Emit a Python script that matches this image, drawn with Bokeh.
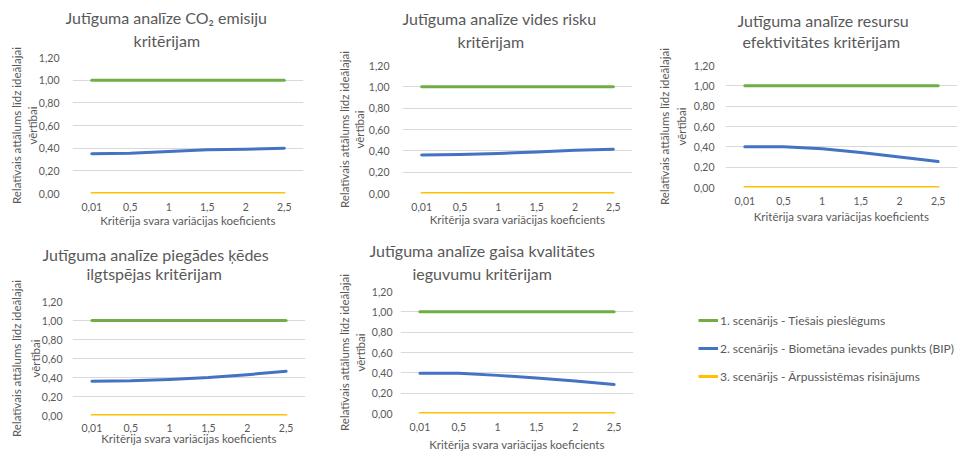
from bokeh.plotting import figure
from bokeh.models import (FactorRange, Range1d, FixedTicker, CustomJSTickFormatter, Title, Legend,
                          LegendItem, LinearAxis)
from bokeh.layouts import column, row
from bokeh.embed import file_html
from bokeh.resources import INLINE

categories = ["0,01", "0,5", "1", "1,5", "2", "2,5"]
y_ticks = [0.0, 0.2, 0.4, 0.6, 0.8, 1.0, 1.2]

series_names = [
    "1. scenārijs - Tiešais pieslēgums",
    "2. scenārijs - Biometāna ievades punkts (BIP)",
    "3. scenārijs - Ārpussistēmas risinājums",
]
series_colors = ["#70AD47", "#4472C4", "#FFC000"]

titles = [
    ("Jutīguma analīze CO₂ emisiju", "kritērijam"),
    ("Jutīguma analīze vides risku", "kritērijam"),
    ("Jutīguma analīze resursu", "efektivitātes kritērijam"),
    ("Jutīguma analīze piegādes ķēdes", "ilgtspējas kritērijam"),
    ("Jutīguma analīze gaisa kvalitātes", "ieguvumu kritērijam"),
]

scenario1 = [1.0, 1.0, 1.0, 1.0, 1.0, 1.0]
scenario3 = [0.0, 0.0, 0.0, 0.0, 0.0, 0.0]
co2_s2 = [0.35, 0.355, 0.37, 0.385, 0.39, 0.40]
risk_s2 = [0.36, 0.365, 0.375, 0.39, 0.405, 0.415]
resource_s2 = [0.40, 0.40, 0.38, 0.345, 0.30, 0.255]
supply_s2 = [0.36, 0.365, 0.38, 0.40, 0.43, 0.465]
air_s2 = [0.395, 0.395, 0.375, 0.35, 0.32, 0.285]
panel_s2 = [co2_s2, risk_s2, resource_s2, supply_s2, air_s2]

x_title = "Kritērija svara variācijas koeficients"
y_title_1 = "Relatīvais attālums līdz ideālajai"
y_title_2 = "vērtībai"

FONT = "Lato"
GREY = "#595959"

# frame borders: (width, height, left, right, top, bottom)
borders = [
    (320, 230, 72, 17, 57, 37),
    (320, 230, 82, 8, 65, 37),
    (320, 230, 85, 3, 65, 43),
    (320, 224, 72, 15, 71, 39),
    (320, 224, 80, 7, 61, 41),
]
# title placement: (offset line 1, offset line 2, spacer standoff, line 1 standoff)
title_place = [
    (-7, 61, 5, 4),
    (0, 55, 12, 4),
    (12, 17, 12, 0),
    (-30, 14, 16, -4),
    (-31, 12, 6, 4),
]
# axis spacing: (y tick standoff, inner y title standoff, outer y title standoff,
#                x tick standoff, x title standoff)
axis_place = [
    (13, -3, 0, 9, 0),
    (13, 0, -1, 9, -1),
    (11, 3, 1, 9, 2),
    (10, -3, 3, 8, -3),
    (8, 2, 0, 9, 4),
]


def style_axis(ax):
    ax.axis_line_color = None
    ax.major_tick_line_color = None
    ax.minor_tick_line_color = None
    ax.major_tick_out = 0
    ax.major_tick_in = 0
    ax.minor_tick_out = 0
    ax.minor_tick_in = 0
    ax.major_label_text_font = FONT
    ax.major_label_text_font_size = "10.5px"
    ax.major_label_text_color = GREY
    ax.axis_label_text_font = FONT
    ax.axis_label_text_font_size = "11.5px"
    ax.axis_label_text_font_style = "normal"
    ax.axis_label_text_color = GREY


def make_panel(i):
    w, h, l, r, t, b = borders[i]
    off1, off2, sp, so1 = title_place[i]
    yts, yis, yos, xts, xls = axis_place[i]
    p = figure(width=w, height=h, x_range=FactorRange(*categories), y_range=Range1d(0, 1.2),
               output_backend="svg", toolbar_location=None,
               min_border_left=l, min_border_right=r, min_border_top=t, min_border_bottom=b)
    p.outline_line_color = None
    p.background_fill_color = "white"
    p.border_fill_color = "white"
    for vals, col in zip([scenario1, panel_s2[i], scenario3], series_colors):
        p.line(x=categories, y=vals, line_color=col, line_width=3, line_cap="round", line_join="round")
    spacer = Title(text=" ", text_font_size="1px", standoff=sp)
    t2 = Title(text=titles[i][1], align="left", text_font=FONT, text_font_size="16px",
               text_font_style="normal", text_color=GREY, standoff=0, offset=off2)
    t1 = Title(text=titles[i][0], align="left", text_font=FONT, text_font_size="16px",
               text_font_style="normal", text_color=GREY, standoff=so1, offset=off1)
    p.add_layout(spacer, "above")
    p.add_layout(t2, "above")
    p.add_layout(t1, "above")
    p.xgrid.grid_line_color = None
    p.ygrid.grid_line_color = "#D9D9D9"
    p.ygrid.grid_line_width = 1
    p.yaxis.ticker = FixedTicker(ticks=y_ticks)
    p.yaxis.formatter = CustomJSTickFormatter(code="return tick.toFixed(2).replace('.', ',');")
    style_axis(p.xaxis[0])
    style_axis(p.yaxis[0])
    p.xaxis.axis_label = x_title
    p.xaxis.major_label_standoff = xts
    p.xaxis.axis_label_standoff = xls
    p.yaxis.axis_label = y_title_2
    p.yaxis.major_label_standoff = yts
    p.yaxis.axis_label_standoff = yis
    outer = LinearAxis(ticker=FixedTicker(ticks=[]), axis_label=y_title_1)
    style_axis(outer)
    outer.major_label_standoff = 0
    outer.axis_label_standoff = yos
    p.add_layout(outer, "left")
    return p


panels = [make_panel(i) for i in range(5)]

# legend panel
pl = figure(width=320, height=224, x_range=FactorRange(*categories), y_range=Range1d(-3, -2),
            output_backend="svg", toolbar_location=None,
            min_border_left=0, min_border_right=0, min_border_top=0, min_border_bottom=0,
            x_axis_location=None, y_axis_location=None)
pl.outline_line_color = None
pl.xgrid.grid_line_color = None
pl.ygrid.grid_line_color = None
items = []
for name, vals, col in zip(series_names, [scenario1, co2_s2, scenario3], series_colors):
    rr = pl.line(x=categories, y=vals, line_color=col, line_width=3)
    items.append(LegendItem(label=name, renderers=[rr]))
leg = Legend(items=items, location=(58, 68), border_line_color=None, background_fill_alpha=0,
             padding=0, margin=0, spacing=8, glyph_width=20, glyph_height=20, label_height=20,
             label_standoff=2, label_text_font=FONT, label_text_font_size="12px",
             label_text_color=GREY)
pl.add_layout(leg, "center")

layout = column(row(column(panels[0]), column(panels[1]), column(panels[2])),
                row(column(panels[3]), column(panels[4]), column(pl)))

open("out.html", "w").write(file_html(layout, INLINE))
